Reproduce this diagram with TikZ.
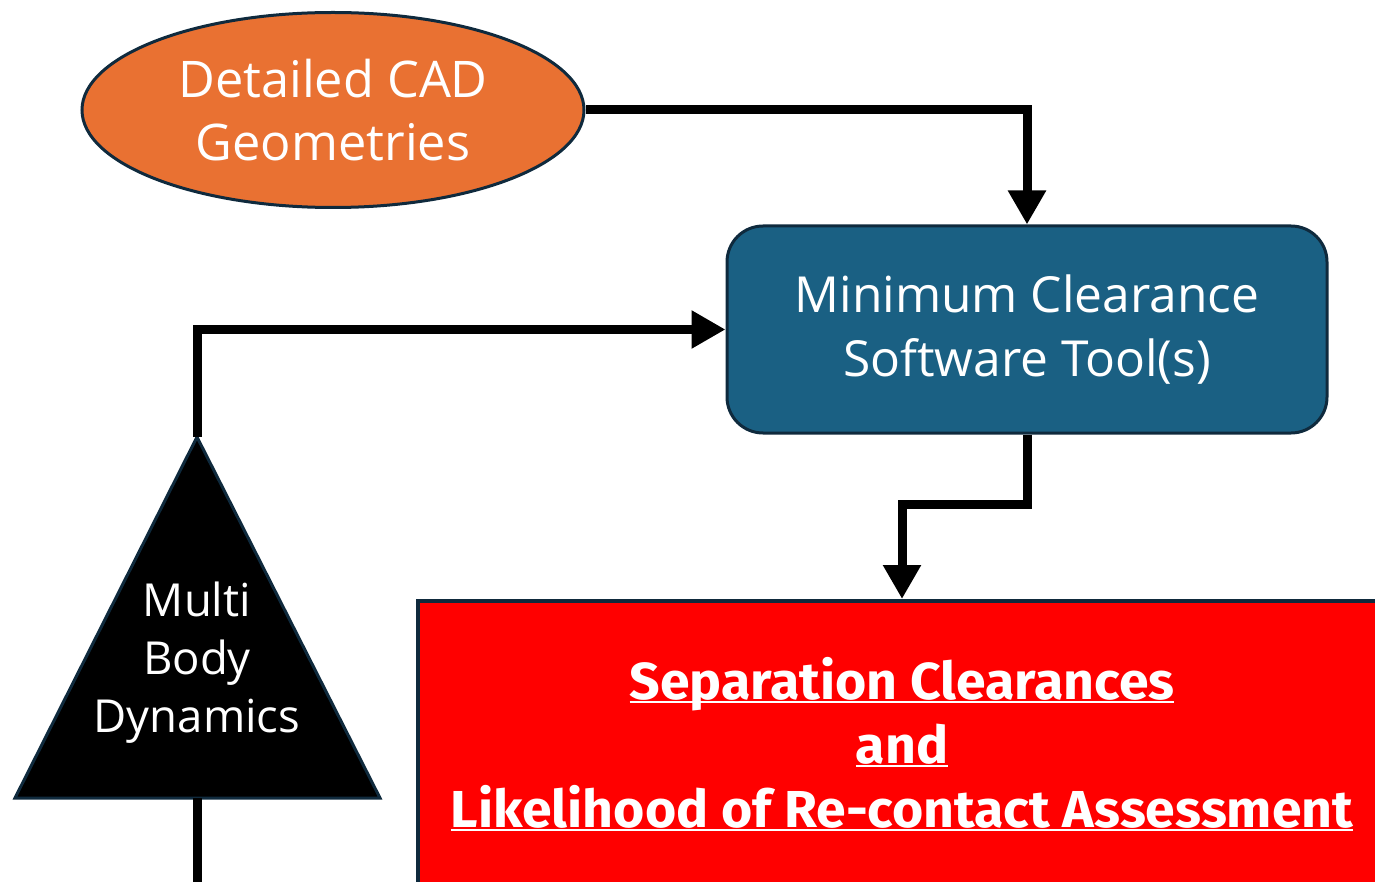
\documentclass[tikz,border=0pt]{standalone}
\usepackage{fontspec}
\setmainfont{Open Sans}
\newfontfamily\redfont[FakeStretch=1.03]{Fira Sans}
\usetikzlibrary{shapes.geometric,arrows.meta}
\definecolor{cadorange}{HTML}{E97132}
\definecolor{toolblue}{HTML}{1A6083}
\definecolor{edgedark}{HTML}{0F2A3D}
\definecolor{boxred}{HTML}{FF0000}
\newcommand\myul[1]{\setbox0\hbox{#1}\rlap{\box0}\setbox0\hbox{#1}\rule[-4pt]{\wd0}{2pt}}
\tikzset{
  conn/.style={line width=9pt, draw=black, -{Triangle[width=36pt,length=34pt]}},
  plainconn/.style={line width=9pt, draw=black},
  edge3/.style={draw=edgedark, line width=3pt},
}
\begin{document}
\begin{tikzpicture}[x=1pt,y=-1pt]
\useasboundingbox (0,0) rectangle (1375,882);
% nodes
\node[ellipse, edge3, fill=cadorange, minimum width=502pt, minimum height=195pt, inner sep=0pt,
  text=white, align=center, font=\fontsize{50.5}{63}\selectfont] (cad) at (333,110) {Detailed CAD\\Geometries};
\node[rectangle, rounded corners=36pt, edge3, fill=toolblue, minimum width=600pt, minimum height=207pt, inner sep=0pt,
  text=white, align=center, font=\fontsize{49.7}{64}\selectfont] (mct) at (1027,329.5) {Minimum Clearance\\Software Tool(s)};
\node[rectangle, draw=edgedark, line width=4pt, fill=boxred, minimum width=968pt, minimum height=286pt, inner sep=0pt,
  text=white, align=center, font=\redfont\bfseries\fontsize{52}{64}\selectfont] (sep) at (902,744)
  {\myul{Separation Clearances}\\\myul{and}\\\myul{Likelihood of Re-contact Assessment}};
% triangle
\coordinate (mbdtop) at (197,437);
\coordinate (mbdbot) at (197,798);
\coordinate (mbdl) at (15,798);
\coordinate (mbdr) at (380,798);
\filldraw[fill=black, draw=edgedark, line width=3pt, line join=miter] (mbdtop) -- (mbdr) -- (mbdl) -- cycle;
\node[text=white, align=center, font=\fontsize{45.5}{58}\selectfont] (mbd) at (197,663) {Multi\\Body\\Dynamics};
\coordinate (mbdend) at (197,890);
% connectors
\draw[conn] (cad.east) -| (mct.north);
\draw[conn] (mbdtop) |- (mct.west);
\draw[conn] (mct.south) -- ++(0,70) -| (sep.north);
\draw[plainconn] (mbdbot) -- (mbdend);
\end{tikzpicture}
\end{document}
